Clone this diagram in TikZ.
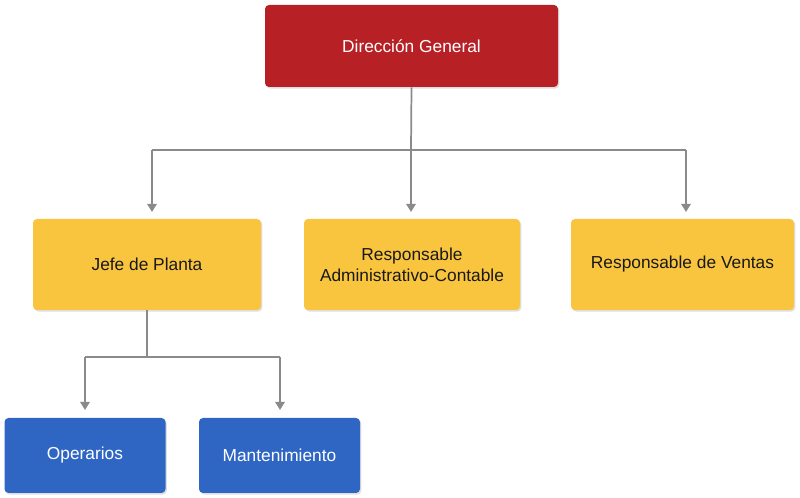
\documentclass[tikz,border=0pt]{standalone}
\usepackage{fontspec}
\setmainfont{Liberation Sans}
\usetikzlibrary{arrows.meta,shadows}
\definecolor{cred}{HTML}{B72126}
\definecolor{cyel}{HTML}{F9C43E}
\definecolor{cblu}{HTML}{2F66C4}
\definecolor{cgry}{HTML}{8A8A8A}
\begin{document}
\begin{tikzpicture}[x=0.75pt,y=-0.75pt,
 box/.style={draw=none,rounded corners=3pt,align=center,font=\fontsize{13}{16}\selectfont,
   drop shadow={shadow xshift=1pt,shadow yshift=-1.2pt,opacity=0.25}},
 red/.style={box,fill=cred,text=white,minimum width=293*0.75pt,minimum height=82*0.75pt},
 yel/.style={box,fill=cyel,text=black!90,minimum height=91*0.75pt},
 blu/.style={box,fill=cblu,text=white,minimum width=161*0.75pt,minimum height=75*0.75pt},
 con/.style={draw=cgry,line width=1.3pt},
 arr/.style={con,-{Triangle[width=7pt,length=6pt]}}]
\useasboundingbox (0,0) rectangle (800,498);
\node[red] (dg) at (411.5,46) {Dirección General};
\node[yel,minimum width=228*0.75pt] (jp) at (147,264.5) {Jefe de Planta};
\node[yel,minimum width=216*0.75pt] (ra) at (412,264.5) {Responsable\\Administrativo-Contable};
\node[yel,minimum width=223*0.75pt] (rv) at (682.5,264.5) {Responsable de Ventas};
\node[blu] (op) at (85,455.5) {Operarios};
\node[blu] (mt) at (279.5,455.5) {Mantenimiento};
\coordinate (t1) at (411,150);
\coordinate (l1) at (152,150);
\coordinate (r1) at (686,150);
\draw[con] (dg.south) -- (t1);
\draw[con] (l1) -- (r1);
\draw[arr] (l1) -- (152,212);
\draw[arr] (t1) -- (411,212);
\draw[arr] (r1) -- (686,212);
\coordinate (t2) at (147,357);
\coordinate (l2) at (85,357);
\coordinate (r2) at (280,357);
\draw[con] (jp.south) -- (t2);
\draw[con] (l2) -- (r2);
\draw[arr] (l2) -- (85,410);
\draw[arr] (r2) -- (280,410);
\end{tikzpicture}
\end{document}
